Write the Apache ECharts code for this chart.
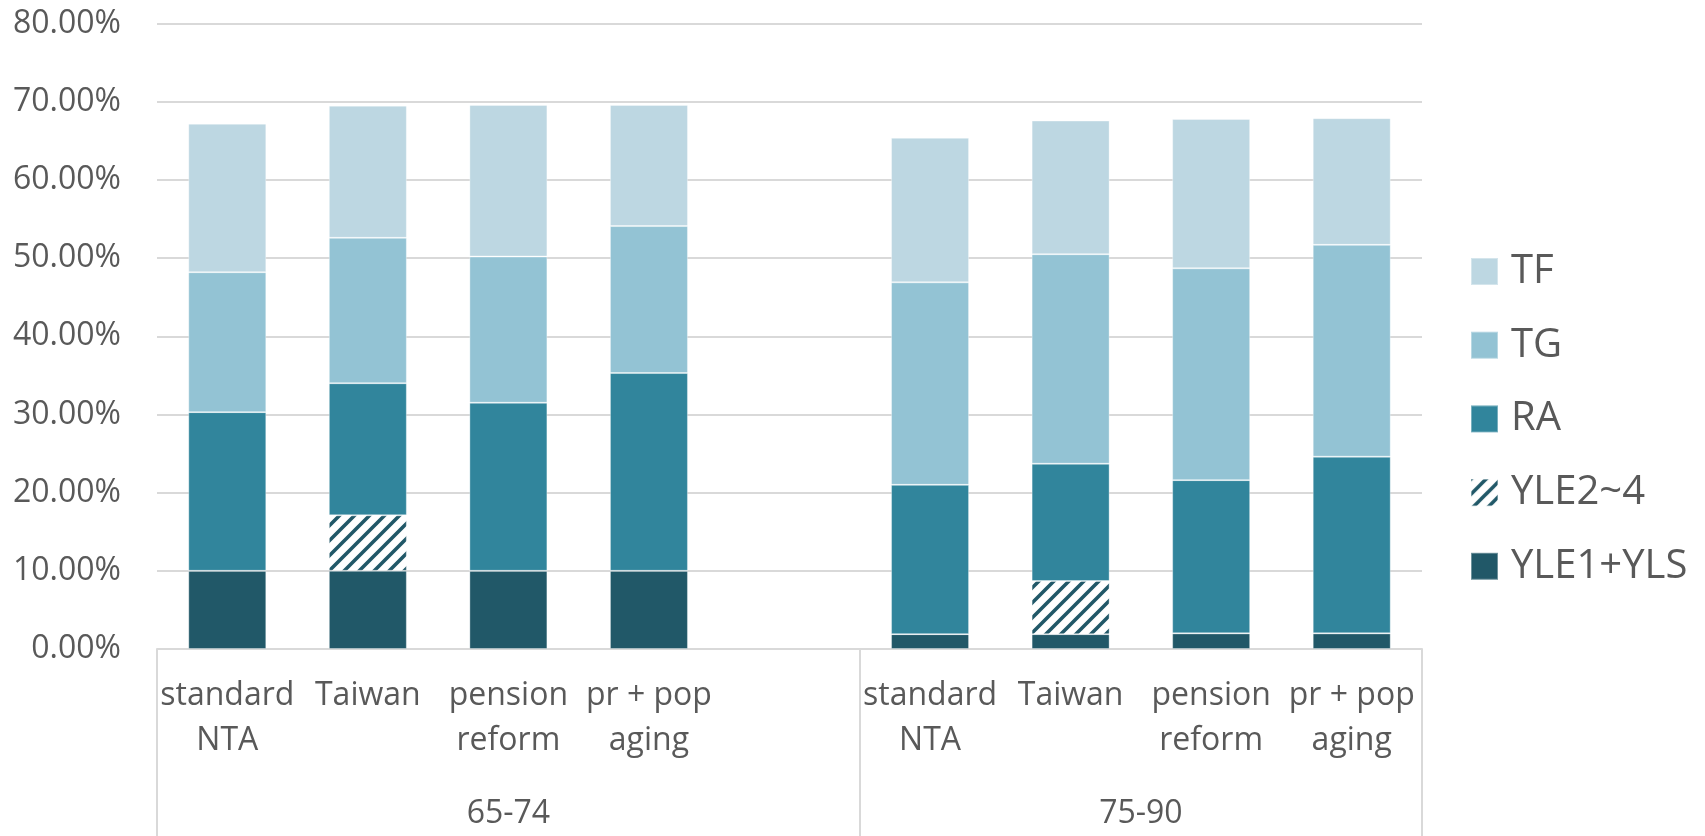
<!DOCTYPE html>
<html>
<head>
<meta charset="utf-8">
<script src="https://cdn.jsdelivr.net/npm/echarts@6/dist/echarts.min.js"></script>
<style>
  html, body { margin: 0; padding: 0; background: #ffffff; }
  #chart { width: 1705px; height: 836px; }
</style>
</head>
<body>
<div id="chart"></div>
<script>
// Scenario categories (blank slot separates the two age groups)
const categories = [
  'standard\nNTA', 'Taiwan', 'pension\nreform', 'pr + pop\naging', '',
  'standard\nNTA', 'Taiwan', 'pension\nreform', 'pr + pop\naging'
];
const ageGroups = ['65-74', '75-90'];
const groupCenters = [2.5, 7];
const groupBounds = [0, 5, 9];

// Shares in percent, stacked bottom to top
const yle1yls = [10.0, 10.0, 10.0, 10.0, null, 1.9, 1.9, 2.0, 2.0];
const yle2to4 = [0, 7.1, 0, 0, null, 0, 6.8, 0, 0];
const ra      = [20.3, 16.9, 21.5, 25.3, null, 19.1, 15.0, 19.6, 22.6];
const tg      = [17.9, 18.6, 18.7, 18.8, null, 25.9, 26.8, 27.1, 27.1];
const tf      = [19.0, 16.9, 19.4, 15.5, null, 18.5, 17.1, 19.1, 16.2];

const yTicks = { min: 0, max: 80, interval: 10 };

// Diagonal hatch fill for YLE2~4
function hatch(color) {
  const s = 15;
  const c = document.createElement('canvas');
  c.width = s; c.height = s;
  const ctx = c.getContext('2d');
  ctx.fillStyle = '#ffffff';
  ctx.fillRect(0, 0, s, s);
  ctx.strokeStyle = color;
  ctx.lineWidth = 3.6;
  ctx.beginPath();
  ctx.moveTo(-2, 2); ctx.lineTo(2, -2);
  ctx.moveTo(-2, s + 2); ctx.lineTo(s + 2, -2);
  ctx.moveTo(s - 2, s + 2); ctx.lineTo(s + 2, s - 2);
  ctx.stroke();
  return { image: c, repeat: 'repeat' };
}

const textColor = '#595959';
const gridColor = '#D9D9D9';
const font = 'Open Sans';

const border = { borderColor: 'rgba(255,255,255,0.35)', borderWidth: 1 };
function barSeries(name, data, color) {
  return {
    name, type: 'bar', stack: 'total', data,
    barWidth: '55.5%',
    itemStyle: Object.assign({ color }, border),
    emphasis: { disabled: true }
  };
}

const chart = echarts.init(document.getElementById('chart'));
chart.setOption({
  animation: false,
  textStyle: { fontFamily: font, color: textColor },
  grid: { left: 157, right: 283, top: 23.6, bottom: 186, containLabel: false },
  legend: {
    orient: 'vertical',
    left: 1470,
    top: 251.5,
    padding: 0,
    itemWidth: 27,
    itemHeight: 27,
    itemGap: 33.7,
    icon: 'rect',
    data: ['TF', 'TG', 'RA', 'YLE2~4', 'YLE1+YLS'],
    textStyle: { fontFamily: font, fontSize: 40, lineHeight: 40, color: textColor, padding: [0, 0, 0, 8] }
  },
  xAxis: [
    {
      type: 'category',
      data: categories,
      position: 'bottom',
      axisLine: { show: true, lineStyle: { color: gridColor, width: 2 } },
      axisTick: { show: false },
      axisLabel: {
        interval: 0, margin: 24, fontFamily: font, fontSize: 32, lineHeight: 45,
        color: textColor, align: 'center'
      },
      splitLine: { show: false }
    },
    {
      type: 'value',
      min: 0, max: 9,
      position: 'bottom',
      axisLine: { show: false },
      splitLine: { show: false },
      axisTick: {
        show: true, customValues: groupBounds, length: 190,
        lineStyle: { color: gridColor, width: 2 }
      },
      axisLabel: {
        customValues: groupCenters,
        margin: 142, fontFamily: font, fontSize: 32, lineHeight: 45, color: textColor,
        formatter: v => ageGroups[groupCenters.indexOf(v)] || ''
      }
    }
  ],
  yAxis: {
    type: 'value',
    min: yTicks.min, max: yTicks.max, interval: yTicks.interval,
    axisLine: { show: false },
    axisTick: { show: false },
    axisLabel: {
      margin: 36, fontFamily: font, fontSize: 32, color: textColor,
      formatter: v => v.toFixed(2) + '%'
    },
    splitLine: { lineStyle: { color: gridColor, width: 2 } }
  },
  series: [
    barSeries('YLE1+YLS', yle1yls, '#215868'),
    barSeries('YLE2~4', yle2to4, hatch('#215868')),
    barSeries('RA', ra, '#31859C'),
    barSeries('TG', tg, '#93C3D4'),
    barSeries('TF', tf, '#BDD7E2')
  ]
});
</script>
</body>
</html>
